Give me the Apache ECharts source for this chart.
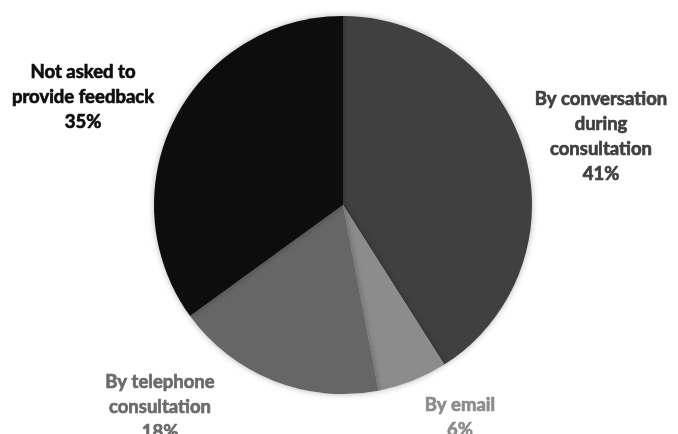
<!DOCTYPE html>
<html><head><meta charset="utf-8">
<script src="https://cdn.jsdelivr.net/npm/echarts@6/dist/echarts.min.js"></script>
<style>html,body{margin:0;padding:0;background:#fff}#c{width:678px;height:434px}</style>
</head><body><div id="c"></div>
<script>
const categories = ['By conversation\nduring\nconsultation', 'By email', 'By telephone\nconsultation', 'Not asked to\nprovide feedback'];
const values = [41, 6, 18, 35];
const sliceColors = ['#404040', '#8c8c8c', '#666666', '#0d0d0d'];
const labelColors = ['#404040', '#8c8c8c', '#6b6b6b', '#0d0d0d'];
const labelPos = [[601, 137], [460, 418], [160, 407], [83, 97]];

const chart = echarts.init(document.getElementById('c'));
chart.setOption({
  animation: false,
  series: [{
    type: 'pie',
    center: [343, 205],
    radius: 189,
    startAngle: 90,
    clockwise: true,
    data: categories.map((n, i) => ({
      name: n, value: values[i],
      itemStyle: { color: sliceColors[i] },
      label: { color: labelColors[i], textBorderColor: labelColors[i] }
    })),
    itemStyle: { borderWidth: 0, shadowBlur: 6, shadowColor: 'rgba(0,0,0,0.3)' },
    label: {
      show: true, position: 'inside',
      formatter: p => p.name + '\n' + p.value + '%',
      fontFamily: 'Lato', fontWeight: 'bold', fontSize: 18.5, lineHeight: 25,
      textBorderWidth: 0.7,
      align: 'center', overflow: 'none'
    },
    labelLine: { show: false },
    labelLayout: p => ({ x: labelPos[p.dataIndex][0], y: labelPos[p.dataIndex][1], align: 'center', verticalAlign: 'middle' })
  }]
});
</script></body></html>
